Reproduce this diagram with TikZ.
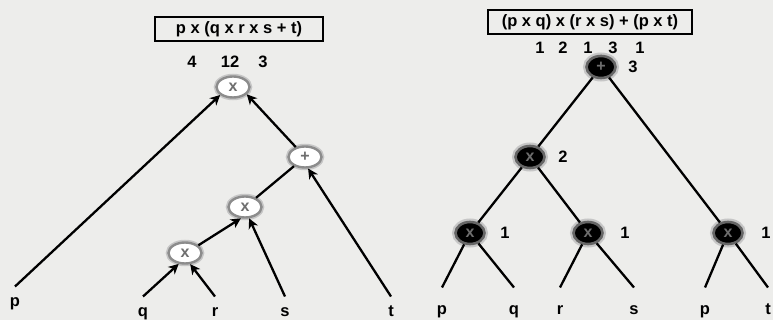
\documentclass[tikz,border=0pt]{standalone}
\usepackage{fontspec}
\setmainfont{Liberation Sans}
\usetikzlibrary{shapes.geometric,arrows.meta}
\definecolor{paper}{RGB}{237,237,235}
\definecolor{glyph}{RGB}{110,110,110}
\begin{document}
\begin{tikzpicture}[x=1pt,y=-1pt,
  lab/.style={font=\fontsize{16.5}{18}\selectfont\bfseries, inner sep=0pt},
  exprbox/.style={lab, draw, line width=1.4pt, minimum height=24pt},
  opw/.style={ellipse, fill=white, draw=gray!90, line width=2.4pt,
    preaction={draw=gray!45, line width=5.5pt},
    minimum width=33pt, minimum height=21pt, inner sep=0pt,
    font=\fontsize{16}{16}\selectfont\bfseries, text=glyph},
  opb/.style={ellipse, fill=black, draw=gray!80!black, line width=2.6pt,
    preaction={draw=gray!45, line width=7pt},
    minimum width=29pt, minimum height=22pt, inner sep=0pt,
    font=\fontsize{16}{16}\selectfont\bfseries, text=glyph},
  leafa/.style={lab, text height=12pt, text depth=3pt, outer ysep=8pt},
  leafb/.style={lab, text height=12pt, text depth=3pt, outer ysep=15pt},
  edge/.style={line width=2.3pt},
  arr/.style={edge, -{Stealth[length=10pt,width=10pt,inset=3pt]}}
]
\useasboundingbox (0,0) rectangle (773,320);
\fill[paper] (0,0) rectangle (773,320);

% ---- left tree: p x (q x r x s + t), drawn with arrows ----
\node[exprbox, minimum width=168pt] (exprL) at (239,29) {p x (q x r x s + t)};
\node[lab] (nL1) at (192,62) {4};
\node[lab] (nL2) at (230,62) {12};
\node[lab] (nL3) at (263,62) {3};

\node[opw] (rootL) at (233,87) {x};
\node[opw] (plusL) at (305,157) {+};
\node[opw] (midL) at (245,207) {x};
\node[opw] (botL) at (185,253) {x};

\node[leafa] (pL) at (15,302) {p};
\node[leafa] (qL) at (143,312) {q};
\node[leafa] (rL) at (215,312) {r};
\node[leafa] (sL) at (285,312) {s};
\node[leafa] (tL) at (391,312) {t};

\draw[arr] (pL.north) -- (rootL.-148);
\draw[arr] (plusL) -- (rootL.-28);
\draw[edge] (midL) -- (plusL);
\draw[arr] (tL.north) -- (plusL.-75);
\draw[arr] (botL.30) -- (midL.-110);
\draw[arr] (sL.north) -- (midL.-70);
\draw[arr] (qL.north) -- (botL.-120);
\draw[arr] (rL.north) -- (botL.-65);

% ---- right tree: (p x q) x (r x s) + (p x t) ----
\node[exprbox, minimum width=204pt] (exprR) at (590,22) {(p x q) x (r x s) + (p x t)};
\node[lab] (nR1) at (540,48) {1};
\node[lab] (nR2) at (563,48) {2};
\node[lab] (nR3) at (588,48) {1};
\node[lab] (nR4) at (613,48) {3};
\node[lab] (nR5) at (640,48) {1};

\node[opb] (rootR) at (601,67) {+};
\node[opb] (twoR) at (530,157) {x};
\node[opb] (oneA) at (470,233) {x};
\node[opb] (oneB) at (588,233) {x};
\node[opb] (oneC) at (728,233) {x};

\node[lab] (dR3) at (633,67) {3};
\node[lab] (dR2) at (563,157) {2};
\node[lab] (dA) at (505,233) {1};
\node[lab] (dB) at (625,233) {1};
\node[lab] (dC) at (766,233) {1};

\node[leafb] (pR) at (442,310) {p};
\node[leafb] (qR) at (514,310) {q};
\node[leafb] (rR) at (560,310) {r};
\node[leafb] (sR) at (634,310) {s};
\node[leafb] (p2R) at (705,310) {p};
\node[leafb] (tR) at (768,310) {t};

\draw[edge] (rootR) -- (twoR);
\draw[edge] (rootR) -- (oneC);
\draw[edge] (twoR) -- (oneA);
\draw[edge] (twoR) -- (oneB);
\draw[edge] (oneA) -- (pR.north);
\draw[edge] (oneA) -- (qR.north);
\draw[edge] (oneB) -- (rR.north);
\draw[edge] (oneB) -- (sR.north);
\draw[edge] (oneC) -- (p2R.north);
\draw[edge] (oneC) -- (tR.north);
\end{tikzpicture}
\end{document}
